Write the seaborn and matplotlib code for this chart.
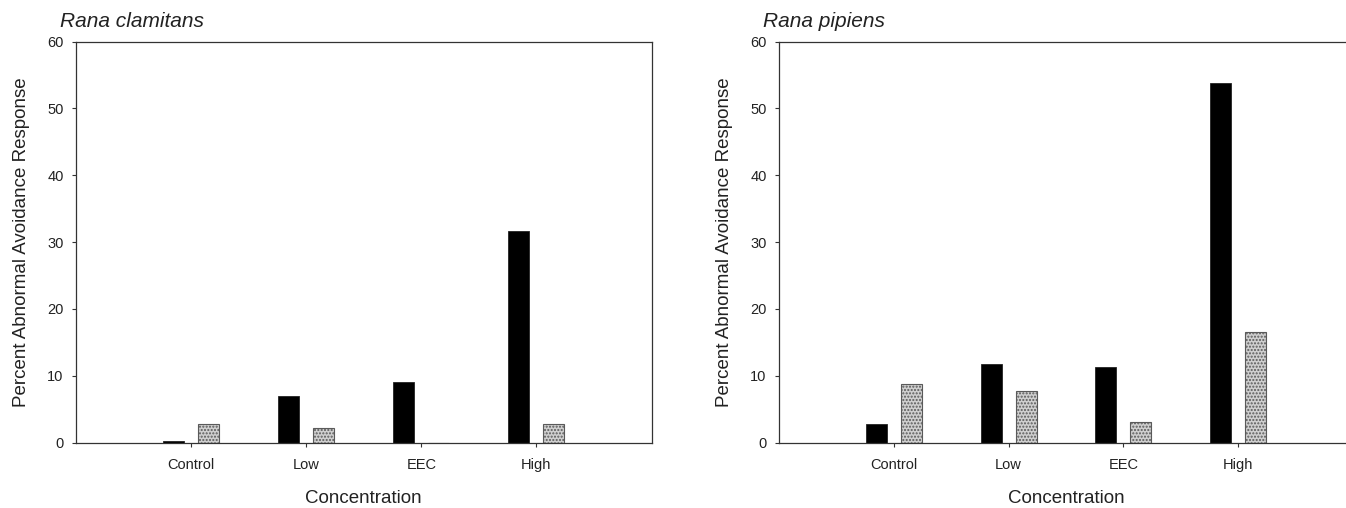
import matplotlib
matplotlib.use("Agg")
import matplotlib.pyplot as plt
import seaborn as sns
import pandas as pd

# Concentration groups on the x axis
concentrations = ["Control", "Low", "EEC", "High"]
series_names = ["Series 1", "Series 2"]

# Percent abnormal avoidance response, per species and series
clamitans_s1 = [0.15, 7.0, 9.0, 31.7]
clamitans_s2 = [2.8, 2.1, 0.0, 2.8]
pipiens_s1 = [2.7, 11.8, 11.3, 53.8]
pipiens_s2 = [8.8, 7.7, 3.1, 16.6]

y_ticks = [0, 10, 20, 30, 40, 50, 60]


def long_frame(s1, s2):
    rows = []
    for name, vals in zip(series_names, (s1, s2)):
        for c, v in zip(concentrations, vals):
            rows.append({"Concentration": c, "Series": name, "Value": v})
    return pd.DataFrame(rows)


sns.set_theme(style="white")
plt.rcParams["font.family"] = ["Liberation Sans", "DejaVu Sans"]

fig = plt.figure(figsize=(13.46, 5.08), dpi=100)
W, H = 1346, 508

panels = [
    ("Rana clamitans", clamitans_s1, clamitans_s2, (76, 651.5), 60),
    ("Rana pipiens", pipiens_s1, pipiens_s2, (779, 1353), 763),
]

spine_col = "#333333"
for title, s1, s2, (x0, x1), tx in panels:
    y_top, y_bot = 41.5, 442.5
    ax = fig.add_axes([x0 / W, 1 - y_bot / H, (x1 - x0) / W, (y_bot - y_top) / H])
    df = long_frame(s1, s2)
    sns.barplot(
        data=df, x="Concentration", y="Value", hue="Series",
        order=concentrations, hue_order=series_names,
        palette=["#000000", "#cfcfcf"], errorbar=None,
        width=0.61, gap=0.4, legend=False, ax=ax,
        edgecolor="#222222", linewidth=0.6,
    )
    for p in ax.containers[1]:
        p.set_hatch(".....")
        p.set_edgecolor("#5a5a5a")
        p.set_linewidth(0.8)
    ax.set_xlim(-1, 4)
    ax.set_ylim(0, 60)
    ax.set_yticks(y_ticks)
    ax.set_yticklabels([str(t) for t in y_ticks])
    ax.tick_params(axis="both", direction="out", length=3, width=0.8,
                   color=spine_col, labelsize=10.5, labelcolor="#222222")
    ax.tick_params(axis="y", pad=6)
    ax.tick_params(axis="x", pad=8)
    ax.tick_params(left=True, bottom=True)
    for s in ax.spines.values():
        s.set_visible(True)
        s.set_color(spine_col)
        s.set_linewidth(0.9)
    ax.set_xlabel("Concentration", fontsize=13.5, color="#222222", labelpad=13)
    ax.set_ylabel("Percent Abnormal Avoidance Response", fontsize=13.5,
                  color="#222222", labelpad=12)
    ax.grid(False)
    fig.text(tx / W, 1 - 27 / H, title, fontsize=15, style="italic",
             color="#222222", ha="left", va="baseline")

fig.savefig("out.png", dpi=100, facecolor="white")
